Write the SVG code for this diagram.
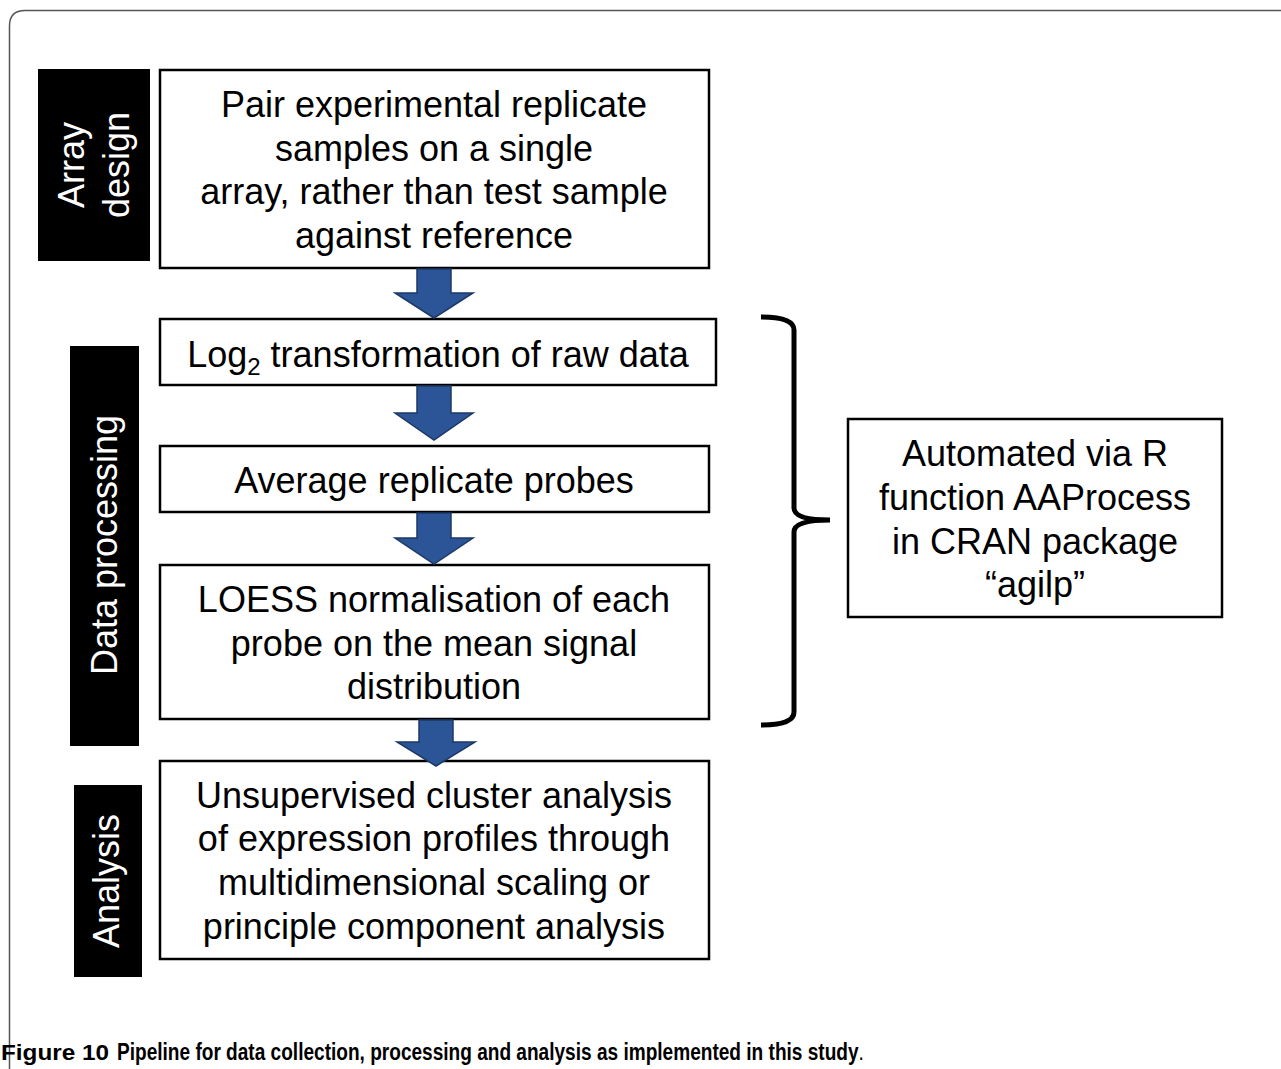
<svg xmlns="http://www.w3.org/2000/svg" width="1281" height="1069" viewBox="0 0 1281 1069">
<style>
.box{fill:#fff;stroke:#000;stroke-width:2.5}
.lab{fill:#000}
.t{font-family:"Liberation Sans",Arial,sans-serif;font-size:36px;fill:#000;text-anchor:middle}
.w{font-family:"Liberation Sans",Arial,sans-serif;font-size:36px;fill:#fff;text-anchor:middle}
.arr{fill:#2b5597;stroke:#1c3866;stroke-width:1.5;stroke-linejoin:miter}
.cap{font-family:"Liberation Sans",Arial,sans-serif;font-size:22px;fill:#000;font-weight:bold}
</style>
<rect width="1281" height="1069" fill="#fff"/>
<path d="M9.5,1069 V26 Q9.5,10.5 25,10.5 H1281" fill="none" stroke="#555" stroke-width="1.5"/>

<g id="label-array-design">
<rect class="lab" x="38" y="69" width="112" height="192"/>
<text class="w" transform="translate(84,165) rotate(-90)">Array</text>
<text class="w" transform="translate(129,165) rotate(-90)">design</text>
</g>
<g id="label-data-processing">
<rect class="lab" x="70" y="346" width="69" height="400"/>
<text class="w" transform="translate(117,545) rotate(-90)">Data processing</text>
</g>
<g id="label-analysis">
<rect class="lab" x="74" y="785" width="68" height="192"/>
<text class="w" transform="translate(119,881) rotate(-90)">Analysis</text>
</g>

<g id="box-pair">
<rect class="box" x="160" y="70" width="549" height="198"/>
<text class="t" x="434" y="117">Pair experimental replicate</text>
<text class="t" x="434" y="161">samples on a single</text>
<text class="t" x="434" y="204">array, rather than test sample</text>
<text class="t" x="434" y="248">against reference</text>
</g>
<g id="box-log2">
<rect class="box" x="160" y="319" width="556" height="66"/>
<text class="t" x="438" y="367">Log<tspan font-size="24" dy="8">2</tspan><tspan dy="-8"> transformation of raw data</tspan></text>
</g>
<g id="box-average">
<rect class="box" x="160" y="446" width="549" height="66"/>
<text class="t" x="434" y="493">Average replicate probes</text>
</g>
<g id="box-loess">
<rect class="box" x="160" y="565" width="549" height="154"/>
<text class="t" x="434" y="612">LOESS normalisation of each</text>
<text class="t" x="434" y="656">probe on the mean signal</text>
<text class="t" x="434" y="699">distribution</text>
</g>
<g id="box-cluster">
<rect class="box" x="160" y="761" width="549" height="198"/>
<text class="t" x="434" y="808">Unsupervised cluster analysis</text>
<text class="t" x="434" y="851">of expression profiles through</text>
<text class="t" x="434" y="895">multidimensional scaling or</text>
<text class="t" x="434" y="939">principle component analysis</text>
</g>
<g id="box-automated">
<rect class="box" x="848" y="419" width="374" height="198"/>
<text class="t" x="1035" y="466">Automated via R</text>
<text class="t" x="1035" y="510">function AAProcess</text>
<text class="t" x="1035" y="554">in CRAN package</text>
<text class="t" x="1035" y="597">“agilp”</text>
</g>

<g id="connectors">
<polygon class="arr" points="417,269 451,269 451,293 473,293 434,318 395,293 417,293"/>
<polygon class="arr" points="417,386 451,386 451,413 473,413 434,440 395,413 417,413"/>
<polygon class="arr" points="417,513 451,513 451,538 473,538 434,564 395,538 417,538"/>
<polygon class="arr" points="419,720 453,720 453,742 475,742 436,766 397,742 419,742"/>
<path d="M761,317 Q794,317 794,330 V508 Q794,520 830,520 Q794,520 794,532 V712 Q794,725 761,725" fill="none" stroke="#000" stroke-width="5"/>
</g>

<text class="cap" x="1" y="1060" textLength="108" lengthAdjust="spacingAndGlyphs">Figure 10</text>
<text class="cap" transform="translate(117,1060) scale(0.867,1.05)" font-size="20" font-weight="600">Pipeline for data collection, processing and analysis as implemented in this study<tspan font-weight="normal">.</tspan></text>
</svg>
